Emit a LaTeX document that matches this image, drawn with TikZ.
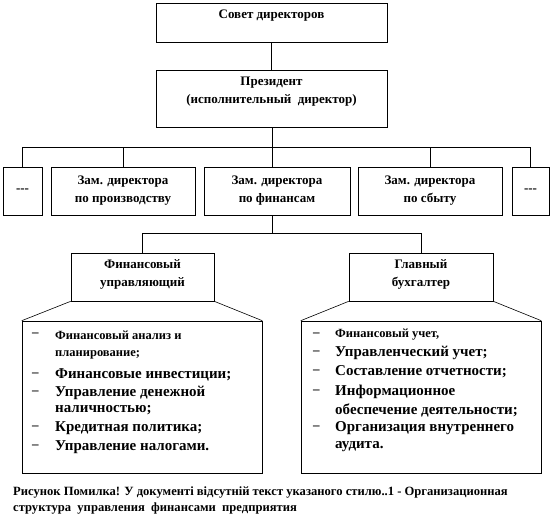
\documentclass[tikz,border=0pt]{standalone}
\usepackage{fontspec}
\setmainfont{Liberation Serif}
\begin{document}
\begin{tikzpicture}[x=1pt,y=-1pt,
  box/.style={draw=black,line width=0.6pt,fill=white,inner sep=0pt,
    font=\bfseries\fontsize{13}{18}\selectfont,align=center},
  bxt/.style={inner sep=0pt,align=center,font=\bfseries\fontsize{13}{18}\selectfont},
  conn/.style={draw=black,line width=0.6pt},
  itm/.style={anchor=west,inner sep=0pt,font=\bfseries\fontsize{15}{17}\selectfont},
  sitm/.style={anchor=west,inner sep=0pt,font=\bfseries\fontsize{12.5}{14}\selectfont},
  dsh/.style={anchor=west,inner sep=0pt,font=\bfseries\fontsize{13}{15}\selectfont},
  captxt/.style={anchor=west,inner sep=0pt,font=\bfseries\fontsize{12.6}{14}\selectfont}]
\useasboundingbox (0,0) rectangle (553,523);
\fill[white] (0,0) rectangle (553,523);
% boxes
\node[box,minimum width=231pt,minimum height=39pt] (sovet) at (271.5,22.5) {};
\node[bxt] (sovetT) at (271.5,16) {Совет директоров};
\node[box,minimum width=231pt,minimum height=57pt] (pres) at (271.5,98.5) {};
\node[bxt] (presT) at (271.5,92) {Президент\\(исполнительный\ \ директор)};
\node[box,minimum width=39pt,minimum height=48pt] (dotsL) at (22.5,191) {-{}-{}-};
\node[box,minimum width=144pt,minimum height=48pt] (proiz) at (123,191) {Зам. директора\\по производству};
\node[box,minimum width=146pt,minimum height=48pt] (finz) at (277,191) {Зам. директора\\по финансам};
\node[box,minimum width=144pt,minimum height=48pt] (sbyt) at (430,191) {Зам. директора\\по сбыту};
\node[box,minimum width=37pt,minimum height=48pt] (dotsR) at (530.5,191) {-{}-{}-};
\node[box,minimum width=143pt,minimum height=48pt] (upr) at (142.5,277) {};
\node[bxt] (uprT) at (142.5,274) {Финансовый\\управляющий};
\node[box,minimum width=144pt,minimum height=48pt] (buh) at (421,277) {};
\node[bxt] (buhT) at (421,274) {Главный\\бухгалтер};
\node[box,minimum width=240pt,minimum height=152pt] (listL) at (142,397) {};
\node[box,minimum width=240pt,minimum height=152pt] (listR) at (421,397) {};
% coordinates for buses
\coordinate (busA) at (0,147);
\coordinate (busB) at (0,233);
% connectors
\draw[conn] (sovet.south) -- (pres.north);
\draw[conn] (272,127) -- (272,167);
\draw[conn] (dotsL.north) -- (dotsL.north |- busA) -- (dotsR.north |- busA) -- (dotsR.north);
\draw[conn] (proiz.north |- busA) -- (proiz.north);
\draw[conn] (sbyt.north |- busA) -- (sbyt.north);
\draw[conn] (272,215) -- (272,233);
\draw[conn] (upr.north |- busB) -- (buh.north |- busB);
\draw[conn] (upr.north |- busB) -- (upr.north);
\draw[conn] (buh.north |- busB) -- (buh.north);
\draw[conn] (upr.south west) -- (listL.north west);
\draw[conn] (upr.south east) -- (listL.north east);
\draw[conn] (buh.south west) -- (listR.north west);
\draw[conn] (buh.south east) -- (listR.north east);
% left list
\foreach \y in {335,375,393,428,447} {\node[dsh] at (32,\y) {–};}
\node[sitm] (l1a) at (55,335) {Финансовый анализ и};
\node[sitm] (l1b) at (55,355) {планирование;};
\node[itm] (l2) at (55,375) {Финансовые инвестиции;};
\node[itm] (l3a) at (55,393) {Управление денежной};
\node[itm] (l3b) at (55,410) {наличностью;};
\node[itm] (l4) at (55,428) {Кредитная политика;};
\node[itm] (l5) at (55,447) {Управление налогами.};
% right list
\foreach \y in {335,353,372,392,428} {\node[dsh] at (313,\y) {–};}
\node[sitm] (r1) at (335,335) {Финансовый учет,};
\node[itm] (r2) at (335,353) {Управленческий учет;};
\node[itm] (r3) at (335,372) {Составление отчетности;};
\node[itm] (r4a) at (335,392) {Информационное};
\node[itm] (r4b) at (335,410) {обеспечение деятельности;};
\node[itm] (r5a) at (335,428) {Организация внутреннего};
\node[itm] (r5b) at (335,447) {аудита.};
% caption
\node[captxt] (c1) at (13,492) {Рисунок Помилка! У документі відсутній текст указаного стилю..1 - Организационная};
\node[captxt] (c2) at (13,508) {структура\ \ управления\ \ финансами\ \ предприятия};
\end{tikzpicture}
\end{document}
